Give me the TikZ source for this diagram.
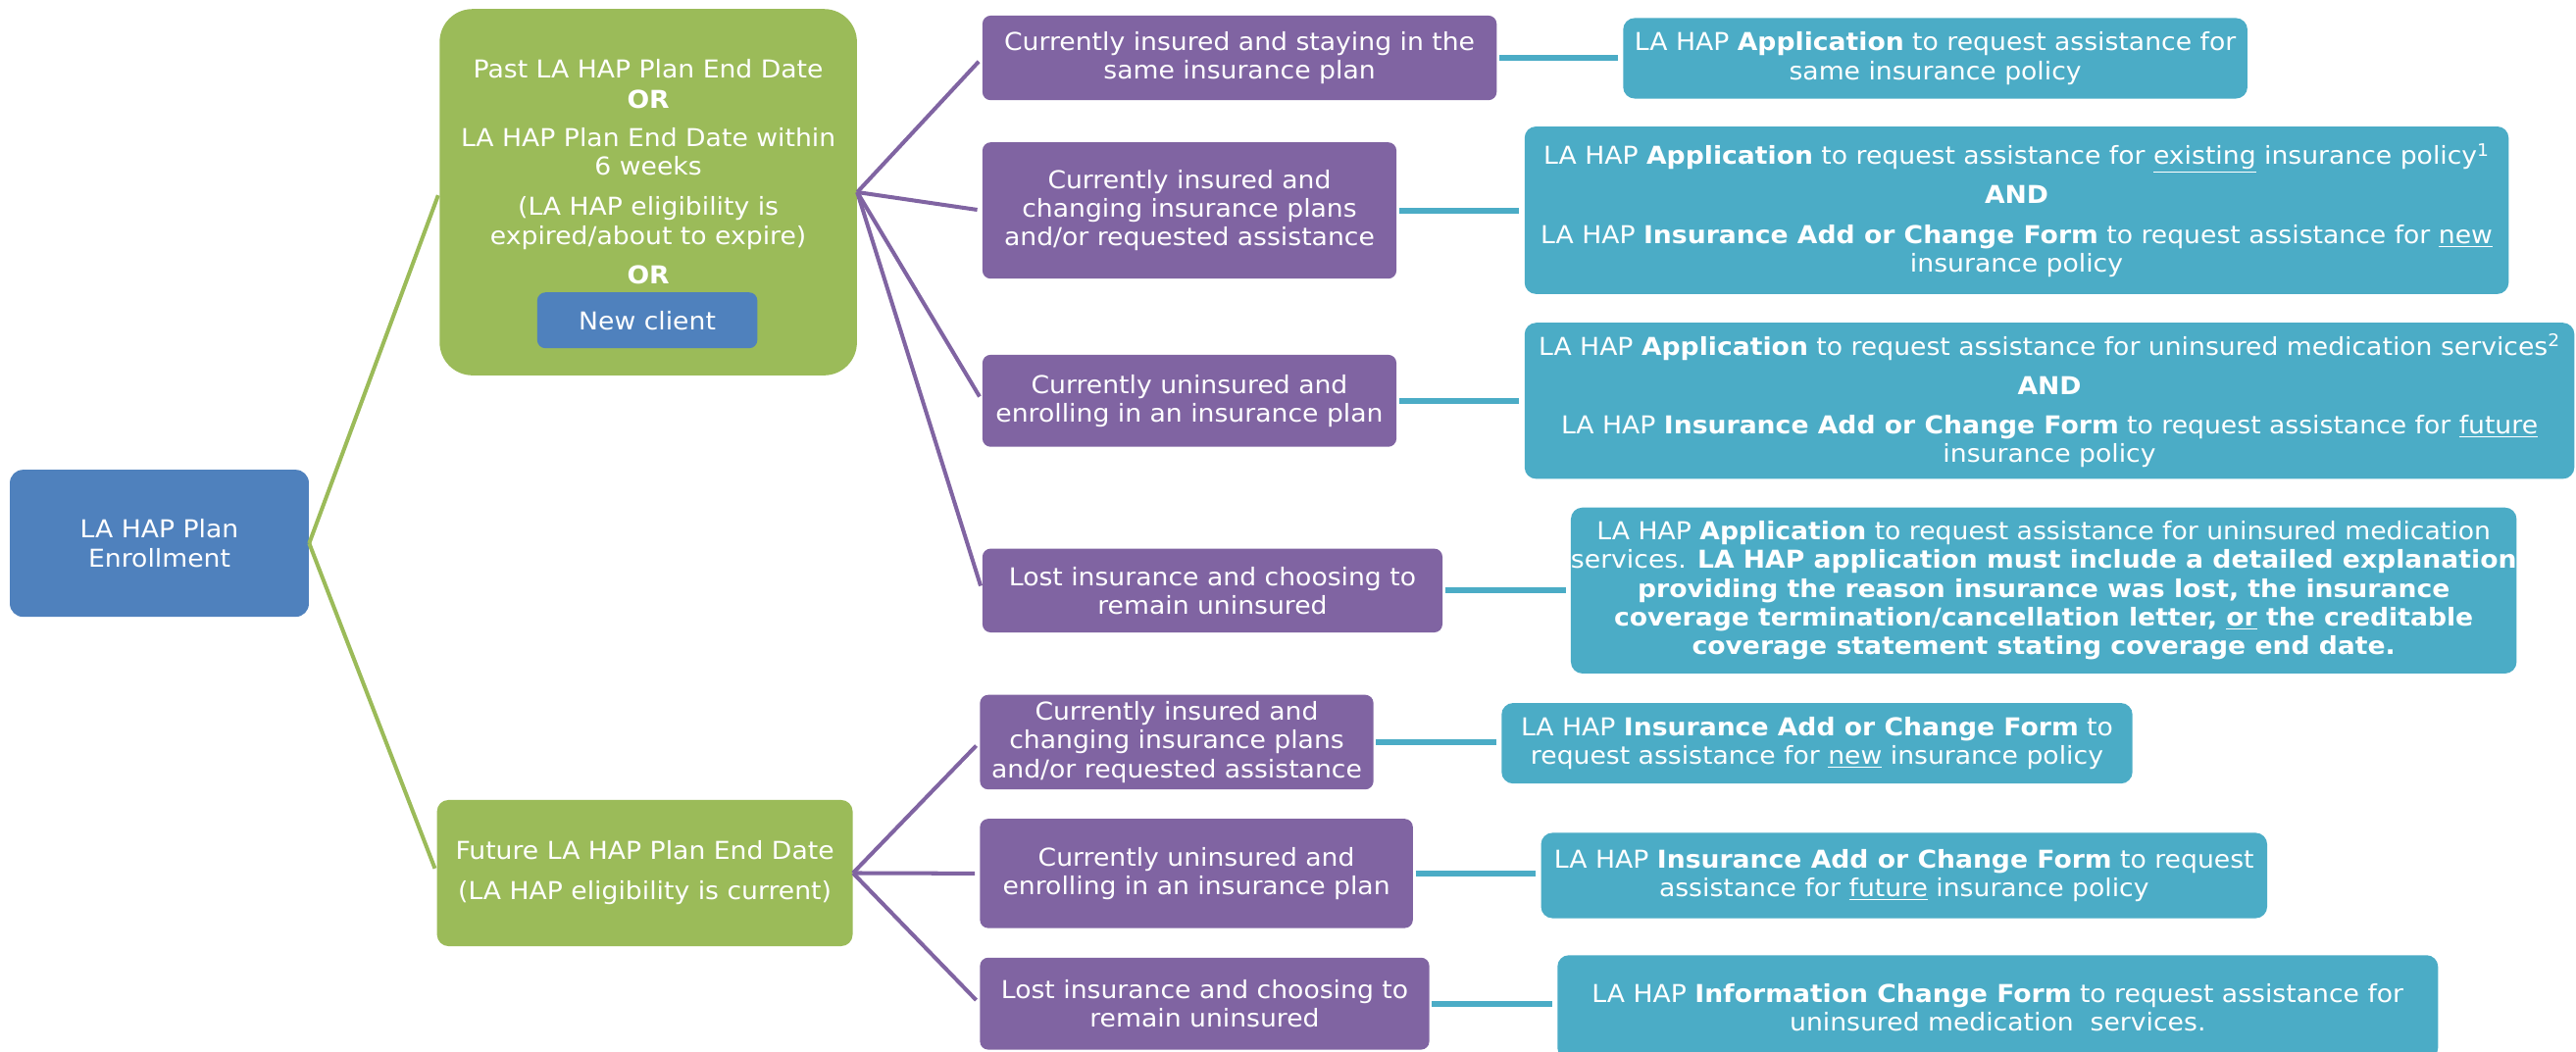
\documentclass[tikz,border=0pt]{standalone}
\usepackage{fontspec}
\setmainfont{DejaVu Sans}[FakeStretch=1.06]
\definecolor{hgreen}{HTML}{9BBB59}
\definecolor{hblue}{HTML}{4F81BD}
\definecolor{hpurple}{HTML}{8064A2}
\definecolor{hteal}{HTML}{4BACC6}
\begin{document}
\begin{tikzpicture}[x=1pt,y=-1pt,
  every node/.style={font=\fontsize{15}{17.5}\selectfont, text=white, align=center, inner sep=0pt},
  box/.style={rounded corners=5pt},
  bluebox/.style={box, fill=hblue},
  greenbox/.style={box, fill=hgreen},
  purplebox/.style={box, fill=hpurple},
  tealbox/.style={box, fill=hteal, rounded corners=7pt},
  greenline/.style={draw=hgreen, line width=2.4pt},
  purpleline/.style={draw=hpurple, line width=2.4pt},
  tealline/.style={draw=hteal, line width=3.6pt},
]
\useasboundingbox (0,0) rectangle (1568,640);

% root
\node[bluebox, rounded corners=8pt, minimum width=182, minimum height=89.5] (root) at (97,330.75) {LA HAP Plan\\Enrollment};

% green level
\node[greenbox, rounded corners=20pt, minimum width=254, minimum height=223] (g1) at (394.6,117) {};
\node[anchor=north] (g1t) at (394.6,35.6) {Past LA HAP Plan End Date\\[1pt]
\textbf{OR}\\[6pt]
LA HAP Plan End Date within\\
6 weeks\\[7pt]
(LA HAP eligibility is\\
expired/about to expire)\\[6.5pt]
\textbf{OR}};
\node[bluebox, minimum width=134, minimum height=34] (nc) at (394,195) {New client};

\node[greenbox, rounded corners=7pt, minimum width=253, minimum height=89] (g2) at (392.5,531.5) {Future LA HAP Plan End Date\\[7pt](LA HAP eligibility is current)};

% purple level (top)
\node[purplebox, minimum width=313, minimum height=51.5] (p1) at (754.5,35.25) {Currently insured and staying in the\\same insurance plan};
\node[purplebox, minimum width=252, minimum height=83] (p2) at (724,128.15) {Currently insured and\\changing insurance plans\\and/or requested assistance};
\node[purplebox, minimum width=252, minimum height=56] (p3) at (724,244) {Currently uninsured and\\enrolling in an insurance plan};
\node[purplebox, minimum width=280, minimum height=51] (p4) at (738,359.5) {Lost insurance and choosing to\\remain uninsured};

% purple level (bottom)
\node[purplebox, minimum width=239.5, minimum height=57.6] (p5) at (716.25,451.8) {Currently insured and\\changing insurance plans\\and/or requested assistance};
\node[purplebox, minimum width=263.5, minimum height=66.5] (p6) at (728.25,531.75) {Currently uninsured and\\enrolling in an insurance plan};
\node[purplebox, minimum width=273.5, minimum height=56] (p7) at (733.25,611) {Lost insurance and choosing to\\remain uninsured};

% teal level
\node[tealbox, minimum width=380, minimum height=49] (t1) at (1178,35.5) {LA HAP \textbf{Application} to request assistance for\\same insurance policy};
\node[tealbox, minimum width=599, minimum height=102] (t2) at (1227.5,128) {LA HAP \textbf{Application} to request assistance for \underline{existing} insurance policy\textsuperscript{1}\\[6.5pt]
\textbf{AND}\\[6.5pt]
LA HAP \textbf{Insurance Add or Change Form} to request assistance for \underline{new}\\
insurance policy};
\node[tealbox, minimum width=639, minimum height=95] (t3) at (1247.5,244) {LA HAP \textbf{Application} to request assistance for uninsured medication services\textsuperscript{2}\\[6.5pt]
\textbf{AND}\\[6.5pt]
LA HAP \textbf{Insurance Add or Change Form} to request assistance for \underline{future}\\
insurance policy};
\node[tealbox, minimum width=574, minimum height=101] (t4) at (1244,359.5) {LA HAP \textbf{Application} to request assistance for uninsured medication\\
services. \textbf{LA HAP application must include a detailed explanation}\\
\textbf{providing the reason insurance was lost, the insurance}\\
\textbf{coverage termination/cancellation letter, \underline{or} the creditable}\\
\textbf{coverage statement stating coverage end date.}};
\node[tealbox, minimum width=384, minimum height=49] (t5) at (1106,452.5) {LA HAP \textbf{Insurance Add or Change Form} to\\request assistance for \underline{new} insurance policy};
\node[tealbox, minimum width=442, minimum height=52] (t6) at (1159,533) {LA HAP \textbf{Insurance Add or Change Form} to request\\assistance for \underline{future} insurance policy};
\node[tealbox, minimum width=536, minimum height=63.5] (t7) at (1216,613.25) {LA HAP \textbf{Information Change Form} to request assistance for\\uninsured medication\ \ services.};

% connectors
\draw[greenline, shorten >=2pt] (root.east) -- (g1.west);
\draw[greenline, shorten >=3pt] (root.east) -- (g2.west);
\foreach \p in {p1,p2,p3,p4}
  \draw[purpleline, shorten >=3pt] (g1.east) -- (\p.west);
\foreach \p in {p5,p6,p7}
  \draw[purpleline, shorten >=3pt] (g2.east) -- (\p.west);
\draw[tealline, shorten <=1.5pt, shorten >=3pt] (p1.east) -- (p1.east -| t1.west);
\draw[tealline, shorten <=1.5pt, shorten >=3pt] (p2.east) -- (p2.east -| t2.west);
\draw[tealline, shorten <=1.5pt, shorten >=3pt] (p3.east) -- (p3.east -| t3.west);
\draw[tealline, shorten <=1.5pt, shorten >=3pt] (p4.east) -- (p4.east -| t4.west);
\draw[tealline, shorten <=1.5pt, shorten >=3pt] (p5.east) -- (p5.east -| t5.west);
\draw[tealline, shorten <=1.5pt, shorten >=3pt] (p6.east) -- (p6.east -| t6.west);
\draw[tealline, shorten <=1.5pt, shorten >=3pt] (p7.east) -- (p7.east -| t7.west);
\end{tikzpicture}
\end{document}
